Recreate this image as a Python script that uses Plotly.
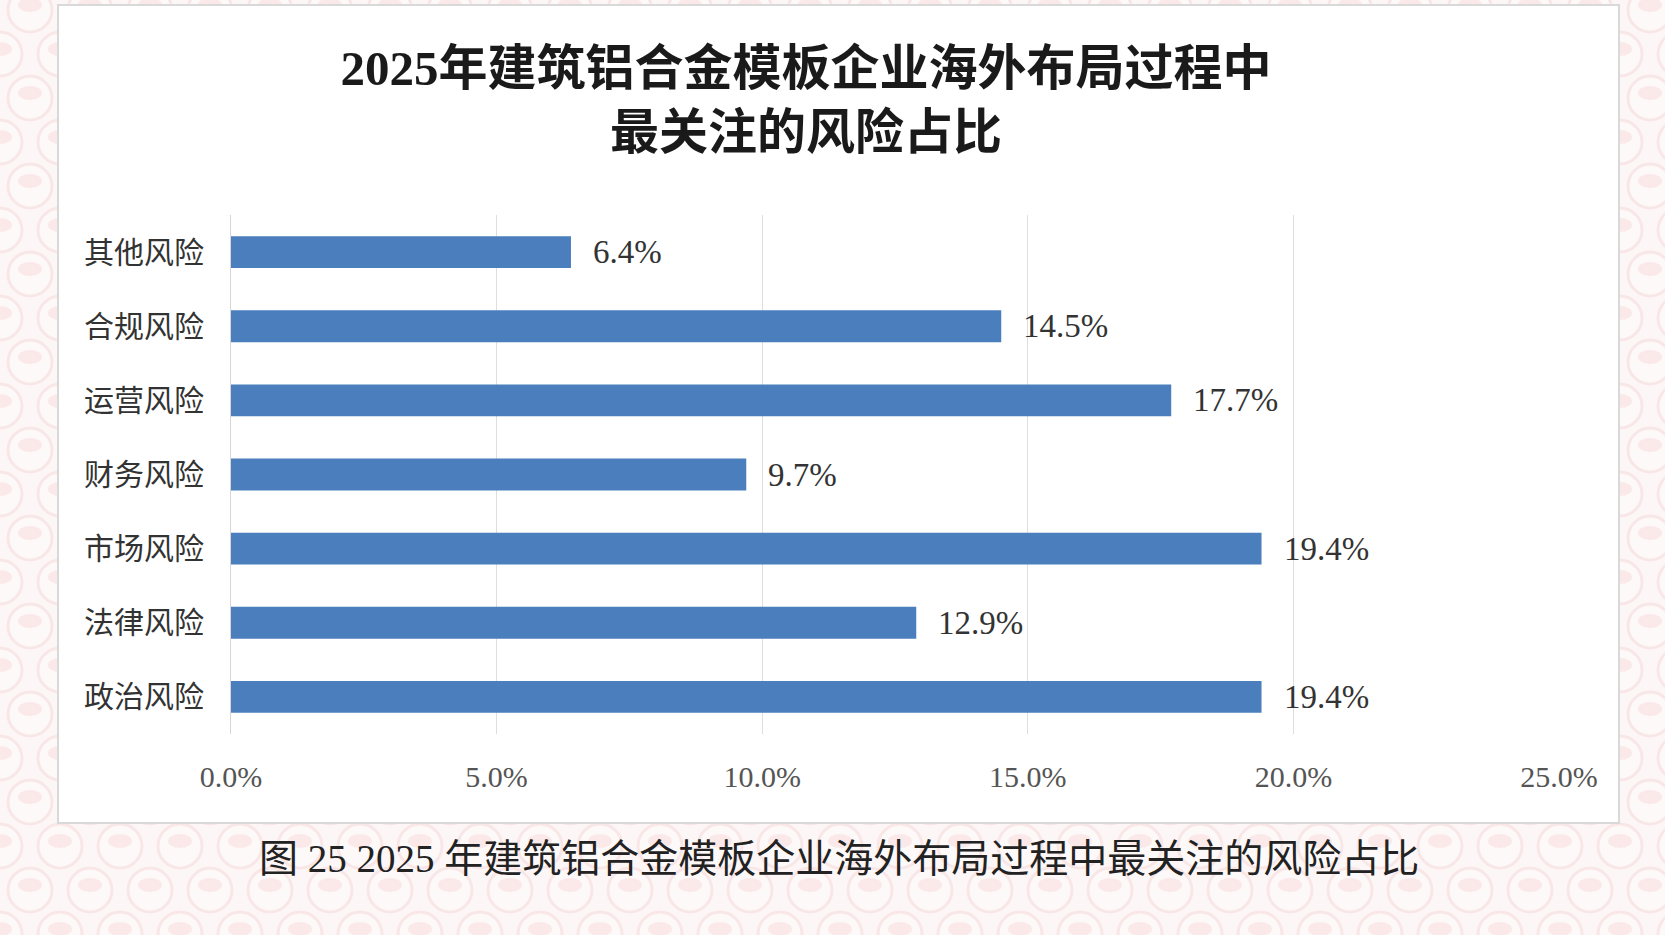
import plotly.graph_objects as go

# ---- data ----
categories = ["其他风险", "合规风险", "运营风险", "财务风险", "市场风险", "法律风险", "政治风险"]
values = [6.4, 14.5, 17.7, 9.7, 19.4, 12.9, 19.4]
tick_vals = [0, 5, 10, 15, 20, 25]
tick_text = ["0.0%", "5.0%", "10.0%", "15.0%", "20.0%", "25.0%"]
title_text = "2025年建筑铝合金模板企业海外布局过程中<br>最关注的风险占比"
caption_text = "图 25 2025 年建筑铝合金模板企业海外布局过程中最关注的风险占比"

W, H = 1665, 935
L, R, T, B = 231, 1559, 215, 734

def px(x):
    return (x - L) / (R - L)

def py(y):
    return (B - y) / (B - T)

SERIF = "Liberation Serif, Times New Roman, Noto Sans CJK SC"
CJK = "Noto Sans CJK SC, Noto Sans"

fig = go.Figure()
fig.add_trace(go.Bar(
    y=categories, x=values, orientation="h",
    marker=dict(color="#4a7ebd", line=dict(width=0)),
    width=0.43, hoverinfo="skip",
))

annotations = []
for c, v in zip(categories, values):
    annotations.append(dict(
        x=v, y=c, xref="x", yref="y", text=f"{v:.1f}%", showarrow=False,
        xanchor="left", yanchor="middle", xshift=20,
        font=dict(family=SERIF, size=33, color="#333333"),
    ))
annotations.append(dict(
    x=px(839), y=py(858), xref="paper", yref="paper", text=caption_text,
    showarrow=False, xanchor="center", yanchor="middle",
    font=dict(family=SERIF, size=39, color="#222222"),
))

# decorative background pattern (visible outside the white panel)
shapes = []
box = (58, 5, 1619, 823)
sx, sy = 60, 44
row = 0
yy = 10
while yy < H + 30:
    off = 0 if row % 2 == 0 else sx / 2
    xx = -30 + off
    while xx < W + 30:
        inside = (box[0] + 25 < xx < box[2] - 25) and (box[1] + 25 < yy < box[3] - 25)
        if not inside:
            r = 22
            shapes.append(dict(type="circle", xref="paper", yref="paper",
                               x0=px(xx - r), x1=px(xx + r), y0=py(yy + r), y1=py(yy - r),
                               line=dict(color="#f9e7e7", width=3), fillcolor="#fef9f9",
                               layer="below"))
            shapes.append(dict(type="circle", xref="paper", yref="paper",
                               x0=px(xx - 12), x1=px(xx + 12), y0=py(yy + 2), y1=py(yy - 12),
                               line=dict(width=0), fillcolor="#fbe9e9", layer="below"))
        xx += sx
    yy += sy
    row += 1

shapes.append(dict(type="rect", xref="paper", yref="paper",
                   x0=px(box[0]), x1=px(box[2]), y0=py(box[3]), y1=py(box[1]),
                   line=dict(color="#d9d9d9", width=2), fillcolor="#ffffff", layer="below"))

fig.update_layout(
    width=W, height=H,
    margin=dict(l=L, r=W - R, t=T, b=H - B, pad=0),
    paper_bgcolor="#fdf6f6", plot_bgcolor="rgba(0,0,0,0)",
    showlegend=False,
    title=dict(text=title_text, x=806 / W, xanchor="center", xref="container",
               y=1 - 85 / H, yanchor="middle", yref="container",
               font=dict(family=SERIF, size=49, color="#1a1a1a", weight="bold")),
    xaxis=dict(range=[0, 25], tickvals=tick_vals, ticktext=tick_text,
               showgrid=True, gridcolor="#dedede", gridwidth=1,
               zeroline=False, showline=False, ticks="",
               ticklabelstandoff=22,
               tickfont=dict(family=SERIF, size=30, color="#555555")),
    yaxis=dict(autorange="reversed", showgrid=False, showline=True,
               linecolor="#d6d6d6", linewidth=1, ticks="",
               ticklabelstandoff=20,
               tickfont=dict(family=CJK, size=30, color="#333333")),
    annotations=annotations,
    shapes=shapes,
    bargap=0.57,
)

fig.write_html("out.html")
